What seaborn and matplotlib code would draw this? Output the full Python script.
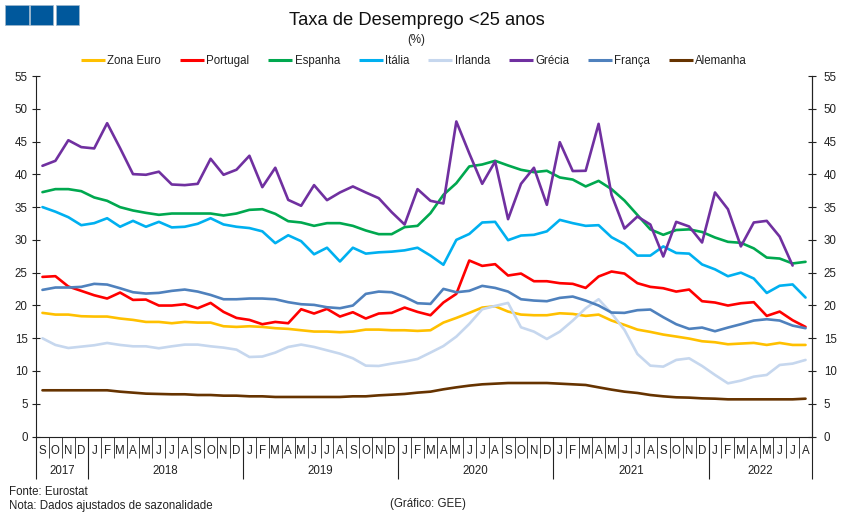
import numpy as np
import pandas as pd
import matplotlib
matplotlib.use("Agg")
import matplotlib.pyplot as plt
from matplotlib.patches import Rectangle
from matplotlib.transforms import blended_transform_factory, IdentityTransform
import seaborn as sns

months = list("SOND") + list("JFMAMJJASOND") * 4 + list("JFMAMJJA")
years = ["2017", "2018", "2019", "2020", "2021", "2022"]
year_lengths = [4, 12, 12, 12, 12, 8]

zona_euro = [18.86,18.6,18.6,18.35,18.3,18.3,18.0,17.79,17.48,17.48,17.28,17.48,17.38,17.38,16.82,16.72,16.82,16.72,16.52,16.42,16.21,16.01,16.01,15.91,16.01,16.31,16.31,16.21,16.21,16.11,16.21,17.38,18.09,18.86,19.67,19.87,19.06,18.6,18.5,18.5,18.8,18.7,18.4,18.6,17.69,17.03,16.31,15.96,15.55,15.25,14.94,14.53,14.38,14.07,14.18,14.28,13.97,14.28,13.97,13.97]
portugal = [24.35,24.46,22.88,22.22,21.55,21.05,21.96,20.84,20.89,19.98,19.98,20.18,19.57,20.38,19.01,18.09,17.79,17.13,17.48,17.28,19.42,18.76,19.47,18.3,18.96,18.0,18.76,18.86,19.67,19.01,18.5,20.44,21.76,26.85,26.03,26.29,24.56,24.86,23.69,23.69,23.39,23.29,22.67,24.41,25.17,24.86,23.39,22.83,22.62,22.11,22.42,20.64,20.44,19.98,20.33,20.49,18.4,19.06,17.74,16.72]
espanha = [37.28,37.74,37.74,37.43,36.47,35.96,34.99,34.48,34.12,33.82,34.02,34.02,34.02,34.02,33.72,34.02,34.58,34.68,33.97,32.85,32.65,32.14,32.55,32.55,32.14,31.43,30.87,30.87,31.94,32.14,34.07,36.87,38.65,41.2,41.5,42.06,41.35,40.69,40.33,40.54,39.52,39.2,38.15,39.0,37.74,36.0,33.8,31.6,30.77,31.5,31.6,31.2,30.36,29.7,29.55,28.7,27.3,27.15,26.4,26.65]
italia = [35.0,34.3,33.46,32.24,32.55,33.3,32.0,32.9,32.0,32.75,31.9,32.0,32.45,33.3,32.35,32.0,31.8,31.3,29.5,30.7,29.8,27.8,28.8,26.7,28.8,27.9,28.1,28.2,28.4,28.8,27.6,26.2,30.0,30.9,32.65,32.75,29.95,30.66,30.77,31.3,33.05,32.55,32.14,32.24,30.4,29.35,27.6,27.6,29.0,28.0,27.9,26.25,25.5,24.45,25.0,24.1,21.9,23.0,23.2,21.2]
irlanda = [14.98,13.97,13.5,13.71,13.92,14.27,13.97,13.76,13.76,13.46,13.76,14.02,14.02,13.76,13.56,13.25,12.13,12.2,12.8,13.66,14.02,13.66,13.15,12.64,11.93,10.81,10.76,11.12,11.42,11.83,12.8,13.8,15.24,17.17,19.41,19.92,20.38,16.66,16.0,14.88,16.0,17.68,19.56,20.94,18.8,16.26,12.59,10.81,10.66,11.68,11.93,10.76,9.39,8.11,8.52,9.13,9.39,10.91,11.12,11.68]
grecia = [41.3,42.06,45.2,44.15,43.95,47.8,44.0,40.03,39.93,40.4,38.45,38.35,38.55,42.37,39.93,40.7,42.83,38.04,41.0,36.1,35.2,38.35,36.06,37.23,38.15,37.23,36.36,34.23,32.34,37.74,35.96,35.55,48.06,43.2,38.55,41.96,33.16,38.55,41.0,35.35,44.9,40.5,40.54,47.7,36.87,31.73,33.56,32.34,27.46,32.75,32.04,29.6,37.23,34.68,29.0,32.65,32.9,30.5,26.08,np.nan]
franca = [22.37,22.73,22.73,22.83,23.29,23.18,22.62,22.01,21.81,21.91,22.22,22.42,22.11,21.6,20.94,20.94,21.05,21.05,20.94,20.49,20.18,20.08,19.72,19.57,19.98,21.76,22.11,22.01,21.3,20.33,20.23,22.52,22.01,22.22,22.98,22.67,22.11,20.94,20.74,20.64,21.15,21.35,20.74,19.98,18.91,18.86,19.27,19.37,18.2,17.13,16.42,16.62,16.06,16.62,17.13,17.69,17.89,17.69,16.92,16.52]
alemanha = [7.05,7.05,7.05,7.05,7.05,7.05,6.84,6.69,6.54,6.49,6.44,6.44,6.33,6.33,6.23,6.23,6.13,6.13,6.03,6.03,6.03,6.03,6.03,6.03,6.13,6.13,6.28,6.38,6.49,6.69,6.84,7.2,7.5,7.76,7.96,8.06,8.16,8.16,8.16,8.16,8.06,7.96,7.86,7.5,7.15,6.84,6.64,6.33,6.13,5.98,5.93,5.82,5.77,5.67,5.67,5.67,5.67,5.67,5.67,5.77]

series = {"Zona Euro": zona_euro, "Portugal": portugal, "Espanha": espanha, "Itália": italia,
          "Irlanda": irlanda, "Grécia": grecia, "França": franca, "Alemanha": alemanha}
colors = {"Zona Euro": "#FFC000", "Portugal": "#FF0000", "Espanha": "#00A84F", "Itália": "#00B0F0",
          "Irlanda": "#C6D7EE", "Grécia": "#7030A0", "França": "#4F81BD", "Alemanha": "#663300"}

W, H = 851, 519
sns.set_style("white")
plt.rcParams["font.family"] = ["Liberation Sans", "DejaVu Sans"]
FS = 8.3

df = pd.DataFrame([{"mes": i, "serie": k, "valor": v}
                   for k, vals in series.items() for i, v in enumerate(vals)])

fig = plt.figure(figsize=(W / 100, H / 100), dpi=100, facecolor="white")
L, R, T, B = 36, 812, 76, 436.5
ax = fig.add_axes([L / W, 1 - B / H, (R - L) / W, (B - T) / H])

sns.lineplot(data=df, x="mes", y="valor", hue="serie", hue_order=list(series),
             palette=colors, linewidth=1.9, ax=ax, errorbar=None, estimator=None, sort=False)
for line in ax.get_lines():
    line.set_solid_joinstyle("round")

ax.set_xlim(-0.5, len(months) - 0.5)
ax.set_ylim(0, 55)
ax.set_xlabel("")
ax.set_ylabel("")
ax.set_yticks(range(0, 56, 5))
ax.tick_params(axis="y", which="major", direction="inout", length=6, width=0.8, color="#222222",
               left=True, labelleft=True, labelsize=FS, labelcolor="#222222", pad=3)
ax.spines["top"].set_visible(False)
for s in ["left", "right", "bottom"]:
    ax.spines[s].set_color("#222222")
    ax.spines[s].set_linewidth(0.8)

right = ax.twinx()
right.set_ylim(0, 55)
right.set_yticks(range(0, 56, 5))
right.grid(False)
right.tick_params(axis="y", which="major", direction="inout", length=6, width=0.8, color="#222222",
                  right=True, labelright=True, labelsize=FS, labelcolor="#222222", pad=5.5)
for s in ["left", "top", "bottom"]:
    right.spines[s].set_visible(False)
right.spines["right"].set_color("#222222")
right.spines["right"].set_linewidth(0.8)

year_edges = np.cumsum([0] + year_lengths) - 0.5
month_edges = np.arange(len(months) + 1) - 0.5
ax.set_xticks(year_edges)
ax.set_xticklabels([])
ax.set_xticks(month_edges, minor=True)
ax.tick_params(axis="x", which="major", bottom=True, direction="out", length=30, width=0.8, color="#222222")
ax.tick_params(axis="x", which="minor", bottom=True, direction="out", length=15, width=0.7, color="#444444")

tr = blended_transform_factory(ax.transData, IdentityTransform())
def py(y):
    return H - y
for i, m in enumerate(months):
    ax.text(i, py(450.5), m, transform=tr, ha="center", va="center", fontsize=FS, color="#222222", clip_on=False)
for y, a, b in zip(years, year_edges[:-1], year_edges[1:]):
    ax.text((a + b) / 2, py(471.5), y, transform=tr, ha="center", va="center", fontsize=FS, color="#222222", clip_on=False)

sns.move_legend(ax, "center", bbox_to_anchor=(414 / W, 1 - 61 / H), bbox_transform=fig.transFigure,
                ncol=8, frameon=False, title=None, fontsize=FS, handlelength=2.1,
                handletextpad=0.2, columnspacing=1.62, borderpad=0, borderaxespad=0)
leg = ax.get_legend()
for h in leg.get_lines():
    h.set_linewidth(2.2)
    h.set_solid_capstyle("butt")
for t in leg.get_texts():
    t.set_color("#222222")

def ftext(x, y, s, **kw):
    fig.text(x / W, 1 - y / H, s, va="center", color=kw.pop("color", "#222222"), **kw)

ftext(416.5, 20.5, "Taxa de Desemprego <25 anos", ha="center", fontsize=13.2, color="#111111")
ftext(416, 40.5, "(%)", ha="center", fontsize=FS)
ftext(9, 492, "Fonte: Eurostat", ha="left", fontsize=FS)
ftext(9, 505.5, "Nota: Dados ajustados de sazonalidade", ha="left", fontsize=FS)
ftext(428, 503.5, "(Gráfico: GEE)", ha="center", fontsize=FS)

for x0, x1 in [(5, 28.5), (30, 53.5), (55.5, 78.5)]:
    fig.add_artist(Rectangle((x0 / W, 1 - 25 / H), (x1 - x0) / W, 20 / H, transform=fig.transFigure,
                             facecolor="#00589C", edgecolor="#9FB7CC", linewidth=0.5))

fig.savefig("out.png", dpi=100, facecolor="white")
